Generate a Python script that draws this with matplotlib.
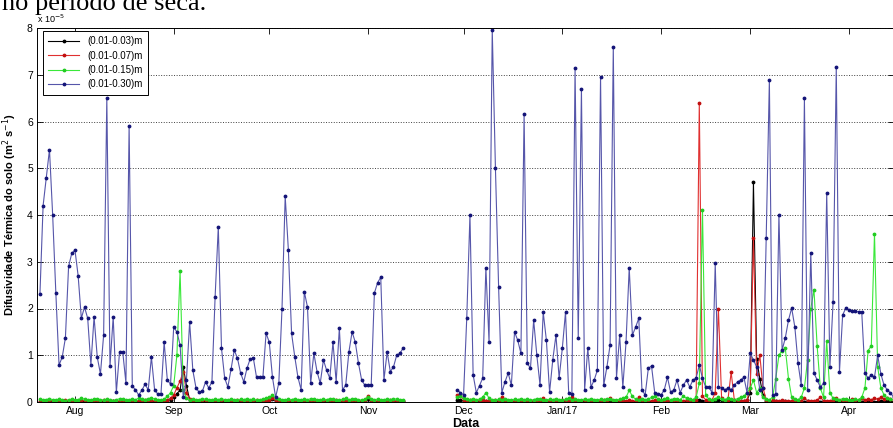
import matplotlib
matplotlib.use('Agg')
import matplotlib.pyplot as plt
import pandas as pd

# first block of days (starts 21 Jul 2016), values x 1e-5 m2/s
blue_1 = [2.30, 4.20, 4.80, 5.40, 4.00, 2.33, 0.79, 0.96, 1.37, 2.90,
          3.18, 3.25, 2.70, 1.79, 2.03, 1.79, 0.79, 1.82, 0.96, 0.60,
          1.43, 6.50, 0.77, 1.82, 0.21, 1.07, 1.07, 0.41, 5.90, 0.34,
          0.26, 0.15, 0.25, 0.38, 0.26, 0.96, 0.26, 0.17, 0.17, 1.28,
          0.47, 0.38, 1.60, 1.50, 1.22, 0.10, 0.47, 1.71, 0.68, 0.30,
          0.21, 0.23, 0.43, 0.30, 0.43, 2.25, 3.75, 1.15, 0.51, 0.32,
          0.70, 1.11, 0.94, 0.62, 0.43, 0.72, 0.92, 0.94, 0.53, 0.53,
          0.53, 1.47, 1.28, 0.53, 0.10, 0.41, 2.00, 4.40, 3.25, 1.47,
          0.97, 0.53, 0.26, 2.36, 2.03, 0.40, 1.04, 0.65, 0.40, 0.90,
          0.68, 0.51, 1.28, 0.43, 1.58, 0.26, 0.36, 1.07, 1.50, 1.28,
          0.83, 0.47, 0.36, 0.36, 0.36, 2.33, 2.55, 2.67, 0.47, 1.07,
          0.65, 0.75, 1.00, 1.04, 1.15]
green_1 = [0.06, 0.04, 0.05, 0.07, 0.05, 0.04, 0.06, 0.05, 0.03, 0.05,
           0.06, 0.04, 0.05, 0.08, 0.06, 0.05, 0.04, 0.06, 0.07, 0.05,
           0.04, 0.06, 0.05, 0.03, 0.05, 0.07, 0.06, 0.04, 0.05, 0.06,
           0.05, 0.08, 0.06, 0.05, 0.07, 0.09, 0.06, 0.05, 0.04, 0.06,
           0.12, 0.20, 0.35, 1.00, 2.80, 0.25, 0.08, 0.05, 0.06, 0.04,
           0.05, 0.07, 0.06, 0.05, 0.04, 0.06, 0.05, 0.07, 0.05, 0.04,
           0.06, 0.05, 0.04, 0.06, 0.05, 0.07, 0.05, 0.06, 0.04, 0.05,
           0.06, 0.08, 0.10, 0.14, 0.09, 0.06, 0.05, 0.04, 0.06, 0.05,
           0.07, 0.05, 0.04, 0.06, 0.05, 0.07, 0.06, 0.05, 0.04, 0.06,
           0.05, 0.07, 0.06, 0.05, 0.04, 0.06, 0.08, 0.05, 0.06, 0.07,
           0.05, 0.04, 0.06, 0.10, 0.07, 0.05, 0.06, 0.04, 0.05, 0.06,
           0.05, 0.07, 0.06, 0.05, 0.04]
red_1 = [0.03, 0.02, 0.03, 0.04, 0.02, 0.03, 0.02, 0.03, 0.04, 0.03,
         0.02, 0.03, 0.03, 0.02, 0.04, 0.03, 0.02, 0.03, 0.02, 0.03,
         0.04, 0.03, 0.02, 0.03, 0.03, 0.02, 0.04, 0.03, 0.02, 0.03,
         0.03, 0.02, 0.03, 0.04, 0.03, 0.02, 0.03, 0.02, 0.03, 0.04,
         0.05, 0.08, 0.15, 0.30, 0.45, 0.65, 0.20, 0.06, 0.03, 0.02,
         0.03, 0.04, 0.03, 0.02, 0.03, 0.02, 0.03, 0.04, 0.03, 0.02,
         0.03, 0.02, 0.04, 0.03, 0.02, 0.03, 0.03, 0.02, 0.04, 0.03,
         0.02, 0.03, 0.05, 0.08, 0.04, 0.03, 0.02, 0.03, 0.02, 0.03,
         0.04, 0.03, 0.02, 0.03, 0.03, 0.02, 0.04, 0.03, 0.02, 0.03,
         0.03, 0.02, 0.03, 0.04, 0.03, 0.02, 0.03, 0.02, 0.03, 0.04,
         0.03, 0.02, 0.04, 0.12, 0.05, 0.03, 0.02, 0.03, 0.02, 0.03,
         0.04, 0.03, 0.02, 0.03, 0.03]
black_1 = [0.01, 0.02, 0.01, 0.02, 0.01, 0.01, 0.02, 0.01, 0.02, 0.01,
           0.02, 0.01, 0.01, 0.02, 0.01, 0.02, 0.01, 0.01, 0.02, 0.01,
           0.01, 0.02, 0.01, 0.02, 0.01, 0.01, 0.02, 0.01, 0.02, 0.01,
           0.02, 0.01, 0.01, 0.02, 0.01, 0.02, 0.01, 0.01, 0.02, 0.01,
           0.03, 0.05, 0.10, 0.18, 0.25, 0.75, 0.35, 0.05, 0.02, 0.01,
           0.01, 0.02, 0.01, 0.02, 0.01, 0.01, 0.02, 0.01, 0.02, 0.01,
           0.02, 0.01, 0.01, 0.02, 0.01, 0.02, 0.01, 0.01, 0.02, 0.01,
           0.01, 0.02, 0.04, 0.06, 0.03, 0.02, 0.01, 0.01, 0.02, 0.01,
           0.02, 0.01, 0.01, 0.02, 0.01, 0.02, 0.01, 0.01, 0.02, 0.01,
           0.01, 0.02, 0.01, 0.02, 0.01, 0.01, 0.02, 0.01, 0.02, 0.01,
           0.02, 0.01, 0.02, 0.06, 0.02, 0.01, 0.01, 0.02, 0.01, 0.02,
           0.01, 0.01, 0.02, 0.01, 0.02]

# second block of days (starts 29 Nov 2016)
blue_2 = [0.26, 0.20, 0.15, 1.80, 4.00, 0.58, 0.20, 0.35, 0.51, 2.87,
          1.28, 7.96, 5.00, 2.46, 0.20, 0.43, 0.62, 0.36, 1.50, 1.32,
          1.04, 6.15, 0.83, 0.72, 1.75, 1.00, 0.36, 1.92, 1.32, 0.21,
          0.90, 1.43, 0.51, 1.15, 1.92, 0.19, 0.17, 7.14, 1.37, 6.70,
          0.26, 1.15, 0.32, 0.47, 0.68, 6.96, 0.36, 0.75, 1.22, 7.60,
          0.51, 1.43, 0.32, 1.28, 2.87, 1.43, 1.60, 1.79, 0.26, 0.15,
          0.72, 0.77, 0.20, 0.18, 0.15, 0.26, 0.53, 0.21, 0.26, 0.47,
          0.20, 0.36, 0.47, 0.32, 0.47, 0.51, 0.79, 0.51, 0.32, 0.32,
          0.20, 2.97, 0.32, 0.30, 0.26, 0.30, 0.26, 0.36, 0.43, 0.47,
          0.53, 0.20, 1.04, 0.90, 0.75, 0.26, 0.30, 3.50, 6.89, 0.15,
          0.17, 4.00, 1.11, 1.37, 1.75, 2.01, 1.60, 0.83, 0.36, 6.50,
          0.26, 3.19, 0.62, 0.47, 0.32, 0.40, 4.47, 0.75, 2.14, 7.17,
          0.64, 1.86, 2.01, 1.97, 1.95, 1.94, 1.93, 1.92, 0.62, 0.51,
          0.58, 0.53, 1.00, 0.60, 0.36, 0.26, 0.20, 0.10]
green_2 = [0.10, 0.12, 0.08, 0.06, 0.05, 0.07, 0.05, 0.06, 0.10, 0.20,
           0.08, 0.05, 0.04, 0.06, 0.05, 0.07, 0.05, 0.04, 0.06, 0.05,
           0.07, 0.05, 0.06, 0.04, 0.05, 0.07, 0.06, 0.05, 0.04, 0.06,
           0.05, 0.07, 0.05, 0.04, 0.06, 0.08, 0.05, 0.06, 0.04, 0.05,
           0.06, 0.05, 0.07, 0.05, 0.04, 0.06, 0.05, 0.07, 0.06, 0.05,
           0.04, 0.06, 0.08, 0.10, 0.25, 0.12, 0.06, 0.05, 0.07, 0.05,
           0.06, 0.10, 0.12, 0.07, 0.05, 0.06, 0.08, 0.05, 0.07, 0.06,
           0.05, 0.12, 0.08, 0.06, 0.05, 0.10, 0.40, 4.10, 0.15, 0.06,
           0.05, 0.07, 0.10, 0.06, 0.05, 0.08, 0.06, 0.05, 0.07, 0.10,
           0.12, 0.20, 0.30, 0.47, 0.20, 0.30, 0.10, 0.06, 0.05, 0.10,
           0.50, 1.00, 1.10, 1.15, 0.50, 0.10, 0.06, 0.05, 0.10, 0.30,
           0.90, 2.00, 2.40, 1.20, 0.30, 0.10, 1.30, 0.20, 0.08, 0.06,
           0.05, 0.07, 0.06, 0.05, 0.04, 0.06, 0.05, 0.10, 0.30, 1.10,
           1.20, 3.60, 0.75, 0.30, 0.15, 0.08, 0.06, 0.05]
red_2 = [0.15, 0.12, 0.05, 0.03, 0.04, 0.02, 0.03, 0.05, 0.04, 0.03,
         0.02, 0.03, 0.04, 0.03, 0.10, 0.04, 0.02, 0.03, 0.02, 0.03,
         0.04, 0.03, 0.02, 0.03, 0.03, 0.02, 0.04, 0.08, 0.03, 0.02,
         0.03, 0.02, 0.03, 0.04, 0.03, 0.02, 0.10, 0.03, 0.02, 0.03,
         0.04, 0.03, 0.02, 0.03, 0.03, 0.02, 0.04, 0.03, 0.08, 0.03,
         0.02, 0.03, 0.03, 0.02, 0.04, 0.03, 0.02, 0.10, 0.04, 0.03,
         0.02, 0.03, 0.04, 0.03, 0.02, 0.03, 0.03, 0.02, 0.04, 0.03,
         0.02, 0.03, 0.04, 0.03, 0.02, 0.05, 6.40, 0.12, 0.05, 0.03,
         0.04, 0.20, 2.00, 0.08, 0.03, 0.05, 0.64, 0.04, 0.03, 0.02,
         0.03, 0.05, 0.30, 3.50, 0.60, 1.00, 0.30, 0.05, 0.03, 0.04,
         0.03, 0.02, 0.04, 0.03, 0.02, 0.03, 0.05, 0.03, 0.02, 0.08,
         0.03, 0.02, 0.03, 0.04, 0.10, 0.03, 0.02, 0.03, 0.04, 0.08,
         0.03, 0.04, 0.05, 0.03, 0.06, 0.04, 0.05, 0.08, 0.04, 0.06,
         0.05, 0.08, 0.06, 0.10, 0.07, 0.09, 0.06, 0.05]
black_2 = [0.05, 0.04, 0.02, 0.01, 0.02, 0.01, 0.01, 0.02, 0.01, 0.02,
           0.01, 0.01, 0.02, 0.01, 0.02, 0.01, 0.01, 0.02, 0.01, 0.02,
           0.01, 0.01, 0.02, 0.01, 0.02, 0.01, 0.01, 0.02, 0.01, 0.02,
           0.01, 0.01, 0.02, 0.01, 0.02, 0.01, 0.01, 0.02, 0.01, 0.02,
           0.01, 0.01, 0.02, 0.01, 0.02, 0.01, 0.01, 0.02, 0.01, 0.02,
           0.01, 0.01, 0.02, 0.01, 0.02, 0.01, 0.01, 0.02, 0.01, 0.02,
           0.01, 0.01, 0.02, 0.01, 0.02, 0.01, 0.01, 0.02, 0.01, 0.02,
           0.01, 0.01, 0.02, 0.01, 0.02, 0.02, 0.05, 0.03, 0.02, 0.01,
           0.02, 0.03, 0.05, 0.02, 0.01, 0.02, 0.04, 0.02, 0.01, 0.02,
           0.02, 0.04, 0.20, 4.70, 0.92, 0.50, 0.15, 0.03, 0.02, 0.01,
           0.02, 0.01, 0.01, 0.02, 0.01, 0.02, 0.01, 0.01, 0.02, 0.01,
           0.02, 0.01, 0.01, 0.02, 0.01, 0.02, 0.01, 0.01, 0.02, 0.01,
           0.02, 0.01, 0.01, 0.02, 0.01, 0.02, 0.01, 0.01, 0.02, 0.01,
           0.02, 0.01, 0.01, 0.02, 0.01, 0.02, 0.01, 0.01]

series_names = ['(0.01-0.03)m', '(0.01-0.07)m', '(0.01-0.15)m', '(0.01-0.30)m']
line_colors = ['#000000', '#e03030', '#3ae83a', '#5656aa']
dot_colors = ['#000000', '#c01010', '#22cc22', '#141478']
month_ticks = ['2016-08-01', '2016-09-01', '2016-10-01', '2016-11-01', '2016-12-01',
               '2017-01-01', '2017-02-01', '2017-03-01', '2017-04-01']
month_labels = ['Aug', 'Sep', 'Oct', 'Nov', 'Dec', 'Jan/17', 'Feb', 'Mar', 'Apr']

plt.rcParams['font.family'] = ['Liberation Sans', 'DejaVu Sans']

fig = plt.figure(figsize=(8.93, 4.28), dpi=100)
ax = fig.add_axes([37 / 893, 26 / 428, 857 / 893, 374 / 428])

segments = [
    ('2016-07-21', [black_1, red_1, green_1, blue_1]),
    ('2016-11-29', [black_2, red_2, green_2, blue_2]),
]
for k, (start, groups) in enumerate(segments):
    for name, lc, dc, vals in zip(series_names, line_colors, dot_colors, groups):
        dates = pd.date_range(start, periods=len(vals), freq='D')
        ax.plot(dates, vals, color=lc, linewidth=0.8, marker='.',
                markersize=3.5, markerfacecolor=dc, markeredgecolor=dc,
                label=name if k == 0 else None)

ax.set_xlim(pd.Timestamp('2016-07-20 02:00'), pd.Timestamp('2017-04-15 03:00'))
ax.set_ylim(0, 8)
ax.set_yticks(range(0, 9))
ax.set_xticks(pd.to_datetime(month_ticks))
ax.set_xticklabels(month_labels)
ax.tick_params(direction='in', top=True, right=True, length=4, width=0.6,
               labelsize=7.5, pad=3)
ax.yaxis.grid(True, linestyle=':', color='0.25', linewidth=0.7)
for sp in ax.spines.values():
    sp.set_linewidth(0.7)

ax.set_ylabel('Difusividade Térmica do solo (m$^2$ s$^{-1}$)', fontsize=8,
              fontweight='bold', labelpad=6)
ax.set_xlabel('Data', fontsize=9, fontweight='bold', labelpad=1)
ax.text(0.0, 1.008, 'x 10$^{-5}$', transform=ax.transAxes, fontsize=6.5,
        ha='left', va='bottom')

leg = ax.legend(loc='upper left', bbox_to_anchor=(6 / 857, 1 - 3 / 374),
                fontsize=7, handlelength=3.2, borderaxespad=0,
                fancybox=False, framealpha=1, edgecolor='black',
                labelspacing=0.45, borderpad=0.55)
leg.get_frame().set_linewidth(0.7)

fig.text(0.002, 1 - 10 / 428, 'no período de seca.', fontsize=19,
         family='Liberation Serif', ha='left', va='baseline')

fig.savefig('out.png', dpi=100)
